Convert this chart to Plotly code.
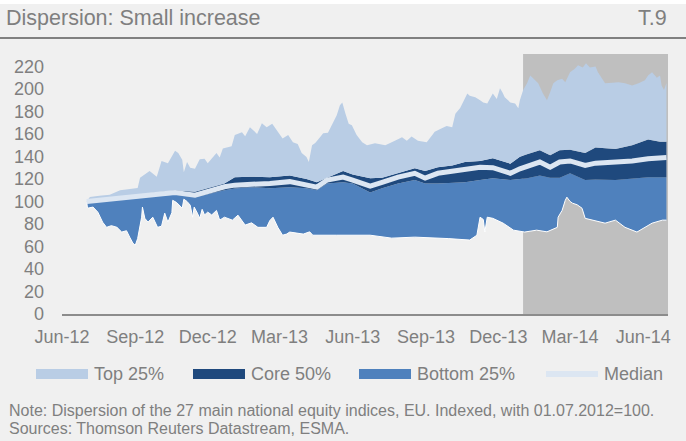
import plotly.graph_objects as go

# ---- data (index, 01.07.2012 = 100) ----
max_dates = ["2012-07-02", "2012-07-06", "2012-07-18", "2012-07-31", "2012-08-13", "2012-08-25",
             "2012-09-04", "2012-09-07", "2012-09-19", "2012-09-28", "2012-10-04", "2012-10-12",
             "2012-10-21", "2012-10-25", "2012-10-30", "2012-11-01", "2012-11-05", "2012-11-09",
             "2012-11-15", "2012-11-21", "2012-11-27", "2012-12-01", "2012-12-12", "2012-12-16",
             "2012-12-20", "2012-12-31", "2013-01-04", "2013-01-13", "2013-01-17", "2013-01-23",
             "2013-02-01", "2013-02-07", "2013-02-13", "2013-02-20", "2013-02-26", "2013-03-05",
             "2013-03-12", "2013-03-18", "2013-03-24", "2013-03-29", "2013-04-04", "2013-04-07",
             "2013-04-11", "2013-04-15", "2013-04-21", "2013-04-25", "2013-05-01", "2013-05-07",
             "2013-05-12", "2013-05-16", "2013-05-19", "2013-05-23", "2013-05-27", "2013-05-31",
             "2013-06-06", "2013-06-13", "2013-06-19", "2013-06-29", "2013-07-12", "2013-07-24",
             "2013-08-02", "2013-08-08", "2013-08-14", "2013-08-22", "2013-09-02", "2013-09-09",
             "2013-09-12", "2013-09-21", "2013-09-27", "2013-10-04", "2013-10-08", "2013-10-14",
             "2013-10-20", "2013-10-23", "2013-10-26", "2013-11-02", "2013-11-08", "2013-11-12",
             "2013-11-17", "2013-11-24", "2013-11-29", "2013-12-03", "2013-12-06", "2013-12-09",
             "2013-12-16", "2013-12-22", "2013-12-26", "2013-12-28", "2014-01-01", "2014-01-06",
             "2014-01-10", "2014-01-14", "2014-01-20", "2014-01-26", "2014-01-31", "2014-02-04",
             "2014-02-08", "2014-02-13", "2014-02-19", "2014-02-23", "2014-03-01", "2014-03-07",
             "2014-03-11", "2014-03-17", "2014-03-21", "2014-03-26", "2014-04-02", "2014-04-05",
             "2014-04-10", "2014-04-14", "2014-04-23", "2014-05-01", "2014-05-09", "2014-05-18",
             "2014-05-26", "2014-06-03", "2014-06-07", "2014-06-12", "2014-06-18", "2014-06-22",
             "2014-06-24", "2014-06-27", "2014-06-30"]
max_vals = [100, 104, 105, 106, 110, 111,
            112, 121, 127, 122, 136, 134,
            145, 143, 137, 126, 135, 130,
            129, 137.5, 138, 134, 143, 139,
            147, 149, 159, 161.5, 158, 166,
            160, 169.5, 166, 169, 163, 156,
            159, 152.6, 151, 143, 139.5, 135,
            150, 152, 157, 160.6, 161, 169.5,
            176.6, 185.4, 188, 178, 169, 167.7,
            159, 152.6, 150, 151.7, 150, 154,
            157, 154, 157.7, 154, 152.6, 159,
            162, 165, 167, 166, 178, 183,
            192.5, 196, 194, 192.5, 190, 188,
            187, 196, 191, 200.5, 197, 192.5,
            188, 187, 182.8, 190, 198.8, 205,
            212, 209, 205, 196, 190, 197,
            205, 207.6, 209, 206, 214.7, 218,
            221, 219, 222.7, 219, 220, 214.7,
            209.4, 205, 205.5, 206, 205, 203,
            205, 207.6, 212, 214.7, 210, 212,
            203, 199, 205]

min_dates = ["2012-07-02", "2012-07-03", "2012-07-10", "2012-07-16", "2012-07-22", "2012-07-27",
             "2012-08-02", "2012-08-09", "2012-08-15", "2012-08-21", "2012-08-25", "2012-08-29",
             "2012-09-01", "2012-09-04", "2012-09-09", "2012-09-10", "2012-09-13", "2012-09-17",
             "2012-09-23", "2012-09-29", "2012-10-04", "2012-10-08", "2012-10-12", "2012-10-17",
             "2012-10-18", "2012-10-23", "2012-10-30", "2012-11-01", "2012-11-05", "2012-11-09",
             "2012-11-12", "2012-11-14", "2012-11-18", "2012-11-21", "2012-11-24", "2012-11-27",
             "2012-12-01", "2012-12-06", "2012-12-12", "2012-12-16", "2012-12-22", "2013-01-01",
             "2013-01-08", "2013-01-17", "2013-01-25", "2013-02-02", "2013-02-13", "2013-02-17",
             "2013-02-21", "2013-02-27", "2013-03-05", "2013-03-10", "2013-03-14", "2013-03-31",
             "2013-04-08", "2013-04-12", "2013-05-12", "2013-06-23", "2013-07-20", "2013-08-18",
             "2013-09-29", "2013-10-20", "2013-10-26", "2013-11-04", "2013-11-08", "2013-11-12",
             "2013-11-14", "2013-11-17", "2013-11-24", "2013-12-07", "2013-12-20", "2014-01-03",
             "2014-01-18", "2014-01-31", "2014-02-13", "2014-02-14", "2014-02-19", "2014-02-23",
             "2014-02-25", "2014-03-01", "2014-03-04", "2014-03-10", "2014-03-16", "2014-03-20",
             "2014-03-29", "2014-04-14", "2014-04-27", "2014-05-09", "2014-05-24", "2014-06-03",
             "2014-06-12", "2014-06-25", "2014-06-30"]
min_vals = [100, 94, 95, 90.5, 81.6, 77,
            78.5, 77, 72.8, 74, 68.3, 63,
            61, 67, 86, 95, 85, 81.6,
            86, 77, 78, 89.6, 81.6, 90,
            101, 99, 94, 102, 100, 96.7,
            86, 95, 89.6, 85, 93, 88,
            90.5, 88, 92, 83.4, 86, 83.4,
            87.8, 79, 81, 77, 77, 83,
            86, 77, 70, 71, 72.8, 71,
            73, 70, 70, 70, 67.4, 68.3,
            67, 65.7, 65.7, 70, 86, 84,
            72.8, 86, 85, 80.7, 74.5, 72.8,
            74.5, 73, 77, 86, 92, 101,
            103.8, 100, 98.5, 97, 94, 85,
            83.4, 80.7, 83.4, 77, 72.8, 77,
            80.7, 83.4, 83.4]

mid_dates = ["2012-07-02", "2012-07-18", "2012-08-13", "2012-08-31", "2012-09-19", "2012-10-21",
             "2012-11-15", "2012-12-04", "2012-12-22", "2013-01-04", "2013-01-23", "2013-02-17",
             "2013-03-14", "2013-04-04", "2013-04-17", "2013-04-30", "2013-05-20", "2013-06-01",
             "2013-06-13", "2013-06-23", "2013-07-08", "2013-07-28", "2013-08-18", "2013-08-31",
             "2013-09-16", "2013-10-04", "2013-10-20", "2013-11-08", "2013-11-24", "2013-12-16",
             "2013-12-28", "2014-01-06", "2014-01-22", "2014-02-04", "2014-02-16", "2014-03-01",
             "2014-03-20", "2014-04-02", "2014-04-27", "2014-05-18", "2014-06-07", "2014-06-22",
             "2014-06-30"]
q3_vals = [100, 102.5, 104.5, 105.5, 107.5, 110, 108.6, 112.7, 116, 121.6, 122, 121.6,
           123, 120, 117, 121, 127, 124, 122, 120.7, 121, 125, 129.5, 127,
           130.4, 132, 135, 136, 138.4, 133.6, 139.7, 142, 145.5, 141, 145.5, 146,
           143, 148, 146.5, 150, 155, 153, 153]
median_vals = [100, 101, 103, 104, 106, 108, 105.6, 110, 113, 114.5, 115, 116,
               117.6, 114.5, 112.7, 119, 121.6, 119, 116, 113.6, 117, 121.6, 125, 120.7,
               125, 126.5, 128, 130.4, 130, 125, 129, 131, 135, 130.4, 135, 136,
               132, 134, 135, 136, 138, 138.5, 139]
q1_vals = [100, 99.5, 101.5, 102.5, 104.5, 106, 103.8, 107, 110, 111.5, 112.7, 111.8,
           112.7, 111.8, 110, 116, 117, 116, 112, 108, 111.8, 116, 119, 116,
           116, 116.5, 117, 119, 120.7, 119, 120, 120.7, 123, 121, 121, 125,
           119, 119.5, 119, 120, 121.6, 121.6, 121.6]

tick_dates = ["2012-06-01", "2012-09-01", "2012-12-01", "2013-03-01", "2013-06-01",
              "2013-09-01", "2013-12-01", "2014-03-01", "2014-06-01"]
tick_labels = ["Jun-12", "Sep-12", "Dec-12", "Mar-13", "Jun-13",
               "Sep-13", "Dec-13", "Mar-14", "Jun-14"]

legend_names = ["Top 25%", "Core 50%", "Bottom 25%", "Median"]

LIGHT = "#b9cde5"
NAVY = "#1f497d"
MID = "#4f81bd"
MEDIAN = "#dce6f2"
GREY_TXT = "#7f7f7f"
FONT = "Liberation Sans, Arial, sans-serif"

W, H = 686, 441
L, R, T, B = 62, 18, 54, 127
PW, PH = W - L - R, H - T - B


def px(x):
    return (x - L) / PW


def py(y):
    return (H - B - y) / PH


fig = go.Figure()
fig.add_trace(go.Scatter(x=min_dates, y=min_vals, mode="lines",
                         line=dict(color="white", width=1), hoverinfo="skip"))
fig.add_trace(go.Scatter(x=mid_dates, y=q1_vals, mode="lines", fill="tonexty",
                         fillcolor=MID, line=dict(width=0), name=legend_names[2]))
fig.add_trace(go.Scatter(x=mid_dates, y=q3_vals, mode="lines", fill="tonexty",
                         fillcolor=NAVY, line=dict(width=0), name=legend_names[1]))
fig.add_trace(go.Scatter(x=max_dates, y=max_vals, mode="lines", fill="tonexty",
                         fillcolor=LIGHT, line=dict(width=0), name=legend_names[0]))
fig.add_trace(go.Scatter(x=mid_dates, y=median_vals, mode="lines",
                         line=dict(color=MEDIAN, width=5), name=legend_names[3]))

shapes = [
    # shaded period
    dict(type="rect", xref="x", yref="paper", x0="2014-01-01", x1="2014-07-02", y0=0, y1=1,
         fillcolor="#bfbfbf", line=dict(width=0), layer="below"),
    # white top strip and title rule
    dict(type="rect", xref="paper", yref="paper", x0=px(0), x1=px(W), y0=py(4), y1=py(-2),
         fillcolor="white", line=dict(width=0)),
    dict(type="line", xref="paper", yref="paper", x0=px(0), x1=px(W), y0=py(38), y1=py(38),
         line=dict(color="#808080", width=2)),
]

annotations = [
    dict(text="Dispersion: Small increase", x=px(4), y=py(18), xanchor="left", yanchor="middle",
         font=dict(size=21.5, color=GREY_TXT)),
    dict(text="T.9", x=px(669), y=py(18), xanchor="right", yanchor="middle",
         font=dict(size=21.5, color=GREY_TXT)),
    dict(text="Note: Dispersion of the 27 main national equity indices, EU. Indexed, with 01.07.2012=100.",
         x=px(7), y=py(410), xanchor="left", yanchor="middle", font=dict(size=16, color=GREY_TXT)),
    dict(text="Sources: Thomson Reuters Datastream, ESMA.",
         x=px(7), y=py(428), xanchor="left", yanchor="middle", font=dict(size=16, color=GREY_TXT)),
]

# legend drawn by hand: wide swatches as in the original
swatch_x = [36, 193, 359, 546]
swatch_colors = [LIGHT, NAVY, MID, MEDIAN]
swatch_h = [10, 10, 10, 6]
for sx, col, hh, name in zip(swatch_x, swatch_colors, swatch_h, legend_names):
    shapes.append(dict(type="rect", xref="paper", yref="paper", x0=px(sx), x1=px(sx + 52),
                       y0=py(374 + hh / 2), y1=py(374 - hh / 2), fillcolor=col, line=dict(width=0)))
    annotations.append(dict(text=name, x=px(sx + 56), y=py(374), xanchor="left", yanchor="middle",
                            font=dict(size=18, color=GREY_TXT)))

for a in annotations:
    a.update(xref="paper", yref="paper", showarrow=False)

fig.update_layout(
    width=W, height=H,
    margin=dict(l=L, r=R, t=T, b=B),
    paper_bgcolor="#f0f0f0", plot_bgcolor="#f0f0f0",
    font=dict(family=FONT, color=GREY_TXT),
    showlegend=False,
    hovermode=False,
    shapes=shapes,
    annotations=annotations,
    xaxis=dict(type="date", range=["2012-06-01", "2014-07-02"], tickvals=tick_dates,
               ticktext=tick_labels, showgrid=False, zeroline=False, showline=True,
               linecolor="#8c8c8c", linewidth=2, ticks="", ticklabelstandoff=5,
               tickfont=dict(size=18, color=GREY_TXT)),
    yaxis=dict(range=[0, 231], tickvals=list(range(0, 221, 20)), showgrid=False,
               zeroline=False, showline=False, ticks="", ticklabelstandoff=17,
               tickfont=dict(size=18, color=GREY_TXT)),
)

# the page body has a default margin; drop it so the figure sits at the window corner
fig.write_html("out.html", config={"displayModeBar": False},
               post_script="document.body.style.margin='0';")
